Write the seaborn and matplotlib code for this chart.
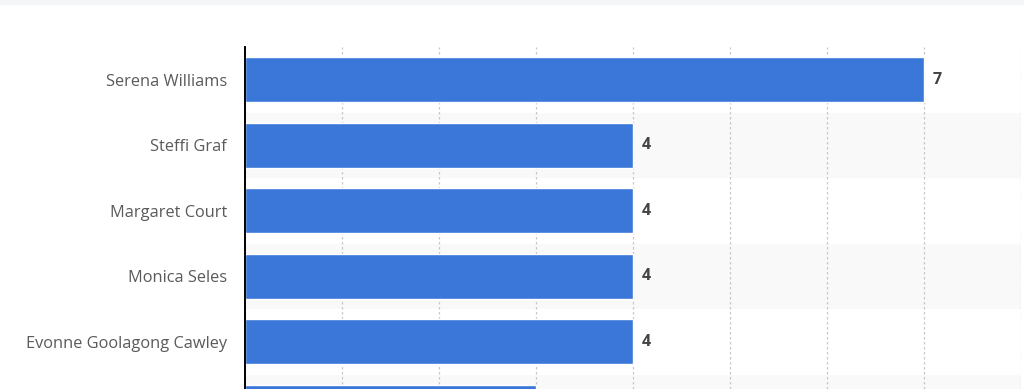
import matplotlib
matplotlib.use("Agg")
import matplotlib.pyplot as plt
import seaborn as sns
import pandas as pd

players = ["Serena Williams", "Steffi Graf", "Margaret Court", "Monica Seles",
           "Evonne Goolagong Cawley", "Martina Hingis"]
titles = [7, 4, 4, 4, 4, 3]

df = pd.DataFrame({"player": players, "titles": titles})

sns.set_style("white")
plt.rcParams['font.family'] = ['Open Sans', 'DejaVu Sans']

fig = plt.figure(figsize=(10.24, 3.89), dpi=100)
# light strip on top
fig.patches.append(plt.Rectangle((0, 1 - 4 / 389), 1, 4 / 389, transform=fig.transFigure,
                                 color="#f4f5f7", zorder=0))

ax = fig.add_axes([245 / 1024, 0, (1021 - 245) / 1024, (389 - 47) / 389])

# alternating row bands
for i in range(len(players)):
    if i % 2 == 1:
        ax.axhspan(i - 0.5, i + 0.5, color="#f9f9f9", zorder=0, lw=0)

sns.barplot(data=df, x="titles", y="player", color="#3a77d8", saturation=1,
            width=0.69, ax=ax, zorder=2)

ax.set_xlim(0, 8)
ax.set_ylim(4.72, -0.5)
ax.set_xticks(range(0, 9))
ax.set_xticklabels([])
ax.xaxis.grid(True, linestyle=(0, (2, 2)), color="#c8c8c8", lw=0.9, zorder=1)
ax.set_axisbelow(True)
ax.set_xlabel("")
ax.set_ylabel("")
ax.tick_params(axis="y", length=0, pad=13, labelsize=11.8, labelcolor="#5a5a5a")
ax.tick_params(axis="x", length=0)
for s in ["top", "right", "bottom"]:
    ax.spines[s].set_visible(False)
ax.spines["left"].set_color("black")
ax.spines["left"].set_linewidth(1.4)
ax.spines["left"].set_zorder(5)

# value labels, only for rows that fall inside the visible area
bottom = ax.get_ylim()[0]
for i, v in enumerate(titles):
    if i > bottom:
        continue
    ax.text(v + 0.09, i, str(v), va="center", ha="left", fontsize=11.5,
            fontweight="bold", color="#444444")

fig.savefig("out.png", dpi=100)
